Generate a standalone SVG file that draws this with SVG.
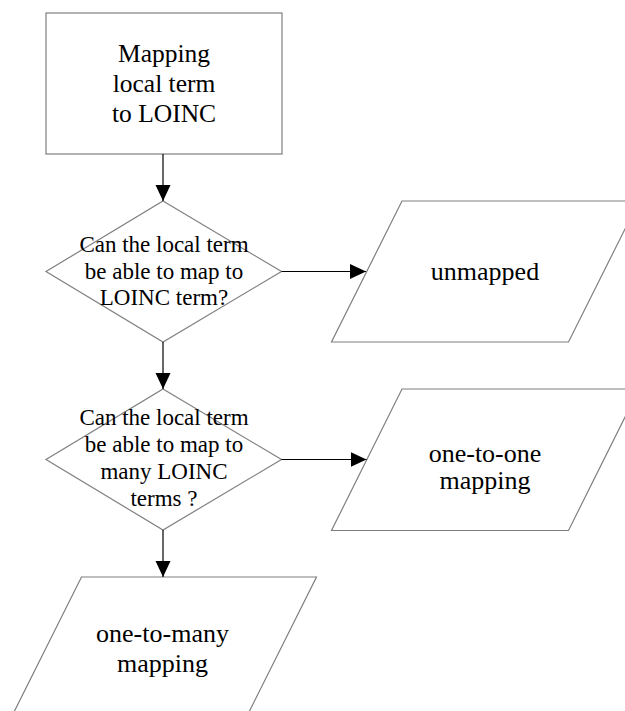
<svg xmlns="http://www.w3.org/2000/svg" width="625" height="711" viewBox="0 0 625 711">
<style>
.shape{fill:#ffffff;stroke:#7f7f7f;stroke-width:1.2}
.conn{stroke:#000000;stroke-width:1.2;fill:none}
.t1{font-size:25.5px}
.t2{font-size:23px}
.t3{font-size:26px}
</style>
<defs>
<marker id="arrow" markerUnits="userSpaceOnUse" markerWidth="18" markerHeight="16" refX="16" refY="7.5" orient="auto">
<path d="M0,0 L16,7.5 L0,15 Z" fill="#000000"/>
</marker>
</defs>
<rect x="0" y="0" width="625" height="711" fill="#ffffff"/>
<g font-family="'Liberation Serif', 'Times New Roman', 'DejaVu Serif', serif" text-anchor="middle" fill="#000000">
<g id="start">
<rect class="shape" x="46" y="13" width="236" height="141"/>
<text class="t1" x="164" y="62">Mapping</text>
<text class="t1" x="164" y="92">local term</text>
<text class="t1" x="164" y="122">to LOINC</text>
</g>
<g id="decision1">
<polygon class="shape" points="163,201 281.5,271.5 163,342 46,271.5"/>
<text class="t2" x="164" y="252">Can the local term</text>
<text class="t2" x="164" y="278.5">be able to map to</text>
<text class="t2" x="164" y="305">LOINC term?</text>
</g>
<g id="unmapped">
<polygon class="shape" points="402,201 639,201 568.5,342 331.5,342"/>
<text class="t3" x="485" y="280">unmapped</text>
</g>
<g id="decision2">
<polygon class="shape" points="163,389 281.5,459.5 163,530 46,459.5"/>
<text class="t2" x="164" y="425">Can the local term</text>
<text class="t2" x="164" y="452">be able to map to</text>
<text class="t2" x="164" y="479">many LOINC</text>
<text class="t2" x="164" y="506">terms ?</text>
</g>
<g id="one-to-one">
<polygon class="shape" points="402,389 639,389 568.5,530.5 331.5,530.5"/>
<text class="t3" x="485" y="462">one-to-one</text>
<text class="t3" x="485" y="488.5">mapping</text>
</g>
<g id="one-to-many">
<polygon class="shape" points="81.5,577 316.5,577 246,718 11,718"/>
<text class="t3" x="162.5" y="641.5">one-to-many</text>
<text class="t3" x="162.5" y="671.5">mapping</text>
</g>
</g>
<g id="connectors">
<line class="conn" x1="163" y1="154" x2="163" y2="201" marker-end="url(#arrow)"/>
<line class="conn" x1="281.5" y1="271.5" x2="366" y2="271.5" marker-end="url(#arrow)"/>
<line class="conn" x1="163" y1="342" x2="163" y2="389" marker-end="url(#arrow)"/>
<line class="conn" x1="281.5" y1="459.5" x2="366.5" y2="459.5" marker-end="url(#arrow)"/>
<line class="conn" x1="163" y1="530" x2="163" y2="577" marker-end="url(#arrow)"/>
</g>
</svg>
